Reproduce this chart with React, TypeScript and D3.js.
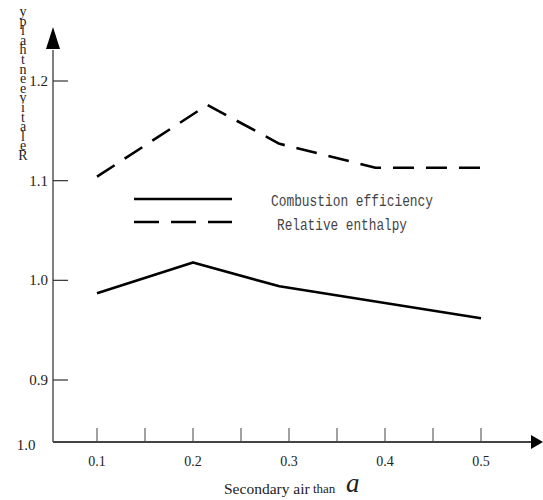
import React from 'react';
import * as d3 from 'd3';

// values
const effX = [0.1, 0.2, 0.29, 0.5];
const effY = [0.987, 1.018, 0.994, 0.962];
const enthX = [0.1, 0.215, 0.29, 0.39, 0.5];
const enthY = [1.104, 1.176, 1.137, 1.113, 1.113];
const yTicks = [0.9, 1.0, 1.1, 1.2];
const xLabels = [0.1, 0.2, 0.3, 0.4, 0.5];
const xMinor = [0.1, 0.15, 0.2, 0.25, 0.3, 0.35, 0.4, 0.45, 0.5];
const yTitle = 'Relativeenthalpy';
const legendNames = ['Combustion efficiency', 'Relative enthalpy'];

const W = 543, H = 500;
const axisX = 53, axisY = 442;
const serif = "'Liberation Serif', 'DejaVu Serif', serif";
const mono = "'Liberation Mono', 'DejaVu Sans Mono', monospace";

const App = () => {
  const x = d3.scaleLinear().domain([0.1, 0.5]).range([97, 481]);
  const y = d3.scaleLinear().domain([0.9, 1.2]).range([380, 81]);

  const line = d3.line<[number, number]>().x(d => x(d[0])).y(d => y(d[1]));
  const effPath = line(effX.map((v, i) => [v, effY[i]]));
  const enthPath = line(enthX.map((v, i) => [v, enthY[i]]));

  const chars = yTitle.split('').reverse();

  return (
    <div style={{ position: 'absolute', left: 0, top: 0 }}>
      <svg width={W} height={H} style={{ display: 'block', background: '#fff' }}>
        {/* y axis */}
        <line x1={axisX} x2={axisX} y1={axisY} y2={50} stroke="#555" strokeWidth={1.5} />
        <path d={`M${axisX},27 L${axisX - 7},49 L${axisX + 7},49 Z`} fill="#000" />
        {yTicks.map(t => (
          <g key={t}>
            <line x1={axisX} x2={axisX + 15} y1={y(t)} y2={y(t)} stroke="#333" strokeWidth={1.2} />
            <text x={48} y={y(t) + 5} textAnchor="end" fontFamily={serif} fontSize={15} fill="#222">
              {t.toFixed(1)}
            </text>
          </g>
        ))}
        <text x={26} y={450} textAnchor="middle" fontFamily={serif} fontSize={15} fill="#222">1.0</text>

        {/* y title: stacked letters */}
        {chars.map((c, i) => (
          <text key={i} x={23} y={16 + i * 9.6} textAnchor="middle" fontFamily={serif} fontSize={14} fill="#222">
            {c}
          </text>
        ))}

        {/* x axis */}
        <line x1={axisX} x2={532} y1={axisY} y2={axisY} stroke="#444" strokeWidth={2} />
        <path d={`M543,${axisY} L531,${axisY - 7} L531,${axisY + 7} Z`} fill="#000" />
        {xMinor.map(t => (
          <line key={t} x1={x(t)} x2={x(t)} y1={axisY} y2={axisY - 14} stroke="#444" strokeWidth={1} />
        ))}
        {xLabels.map(t => (
          <text key={t} x={x(t)} y={466} textAnchor="middle" fontFamily={serif} fontSize={14} fill="#222">
            {t.toFixed(1)}
          </text>
        ))}
        <text x={224} y={494} fontFamily={serif} fontSize={15.5} fill="#222">
          Secondary air
          <tspan fontSize={13} dy={-1}> than</tspan>
        </text>
        <text x={346} y={492} fontFamily={serif} fontStyle="italic" fontSize={27} fill="#222">a</text>

        {/* data lines */}
        <path d={effPath ?? ''} fill="none" stroke="#000" strokeWidth={2.6} strokeLinejoin="round" />
        <path d={enthPath ?? ''} fill="none" stroke="#000" strokeWidth={2.6} strokeDasharray="21 12" strokeLinejoin="round" />

        {/* legend */}
        <line x1={134} x2={232} y1={199} y2={199} stroke="#000" strokeWidth={2.6} />
        <line x1={134} x2={232} y1={222} y2={222} stroke="#000" strokeWidth={2.6} strokeDasharray="25 12" />
        <text x={271} y={206} fontFamily={mono} fontSize={16.5} fill="#444" textLength={162} lengthAdjust="spacingAndGlyphs">
          {legendNames[0]}
        </text>
        <text x={277} y={230} fontFamily={mono} fontSize={16.5} fill="#444" textLength={130} lengthAdjust="spacingAndGlyphs">
          {legendNames[1]}
        </text>
      </svg>
    </div>
  );
};

export default App;
